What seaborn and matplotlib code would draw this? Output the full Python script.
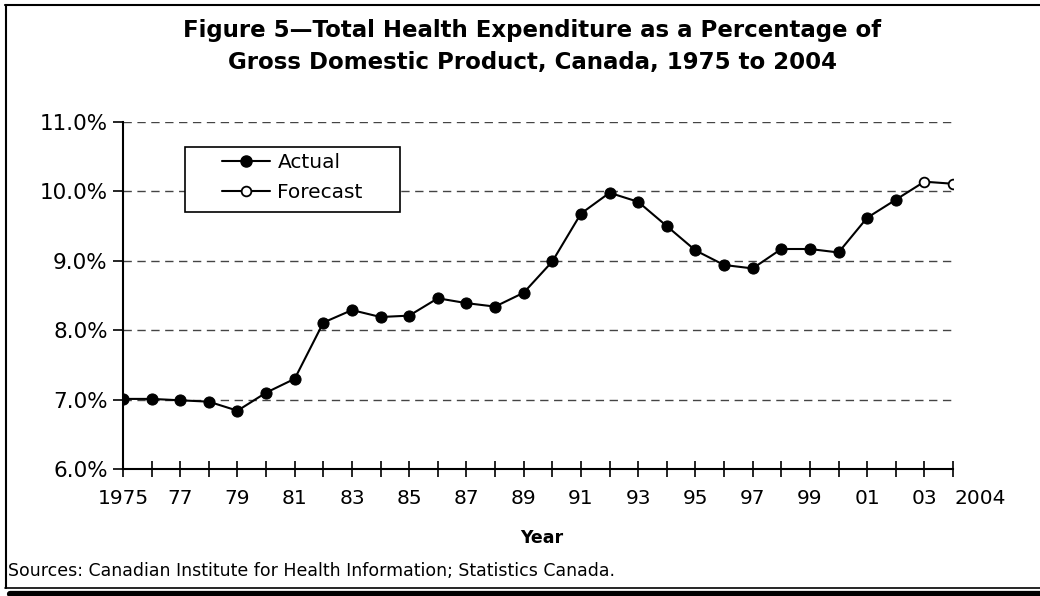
import matplotlib
matplotlib.use("Agg")
import matplotlib.pyplot as plt
import seaborn as sns
import pandas as pd
from matplotlib.lines import Line2D
from matplotlib.patches import Rectangle

# ---- data ----
actual_years = list(range(1975, 2003))
actual_values = [7.01, 7.01, 6.99, 6.97, 6.84, 7.10, 7.30, 8.11, 8.29, 8.19,
                 8.21, 8.46, 8.39, 8.34, 8.54, 8.99, 9.68, 9.98, 9.85, 9.50,
                 9.15, 8.94, 8.89, 9.17, 9.17, 9.12, 9.62, 9.88]
forecast_years = [2003, 2004]
forecast_values = [10.14, 10.11]
tick_years = [1975, 1977, 1979, 1981, 1983, 1985, 1987, 1989, 1991, 1993,
              1995, 1997, 1999, 2001, 2003, 2004]
tick_labels = ["1975", "77", "79", "81", "83", "85", "87", "89", "91", "93",
               "95", "97", "99", "01", "03", "2004"]
y_ticks = [6, 7, 8, 9, 10, 11]
y_labels = ["6.0%", "7.0%", "8.0%", "9.0%", "10.0%", "11.0%"]
title = "Figure 5\u2014Total Health Expenditure as a Percentage of\nGross Domestic Product, Canada, 1975 to 2004"
source = "Sources: Canadian Institute for Health Information; Statistics Canada."

sns.set_theme(style="white")
plt.rcParams["font.family"] = ["DejaVu Sans"]
plt.rcParams["text.color"] = "black"
plt.rcParams["xtick.color"] = "black"
plt.rcParams["ytick.color"] = "black"

FS = 14.5

fig = plt.figure(figsize=(10.4, 5.96), dpi=100)
ax = fig.add_axes([123 / 1040, 1 - 469 / 596, (953 - 123) / 1040, (469 - 122) / 596])

df_a = pd.DataFrame({"year": actual_years, "value": actual_values})
df_f = pd.DataFrame({"year": forecast_years, "value": forecast_values})
df_c = pd.DataFrame({"year": [actual_years[-1], forecast_years[0]],
                     "value": [actual_values[-1], forecast_values[0]]})

sns.lineplot(data=df_c, x="year", y="value", ax=ax, color="black", lw=1.5, zorder=3)
sns.lineplot(data=df_f, x="year", y="value", ax=ax, color="black", lw=1.5,
             marker="o", markersize=7, markerfacecolor="white",
             markeredgecolor="black", markeredgewidth=1.3, zorder=4)
sns.lineplot(data=df_a, x="year", y="value", ax=ax, color="black", lw=1.5,
             marker="o", markersize=8, markerfacecolor="black",
             markeredgecolor="black", zorder=5)

ax.set_xlim(1975, 2004)
ax.set_ylim(6, 11)
ax.set_yticks(y_ticks)
ax.set_yticklabels(y_labels, fontsize=FS + 1, color="black")
ax.set_xticks(list(range(1975, 2005)))
ax.set_xticklabels([""] * 30)
for yr, lab in zip(tick_years, tick_labels):
    ax.text(yr if lab != "2004" else yr + 0.05, 5.58, lab,
            ha="center" if lab != "2004" else "left",
            va="center", fontsize=FS, color="black", clip_on=False)

ax.tick_params(axis="x", bottom=True, direction="inout", length=11, width=1.2,
               color="black")
ax.tick_params(axis="y", left=True, direction="out", length=7, width=1.2,
               color="black", pad=4)
for s in ["top", "right"]:
    ax.spines[s].set_visible(False)
for s in ["left", "bottom"]:
    ax.spines[s].set_color("black")
    ax.spines[s].set_linewidth(1.5)
ax.grid(False)
for yv in y_ticks[1:]:
    ax.axhline(yv, color="#444444", lw=1.0, ls=(0, (6, 4)), zorder=1)

ax.set_xlabel("")
ax.set_ylabel("")
fig.text(542 / 1040, 1 - 538 / 596, "Year", ha="center", va="center",
         fontsize=12.5, fontweight="bold", color="black")

# legend box
box = Rectangle((185 / 1040, 1 - 212 / 596), 215 / 1040, 65 / 596,
                transform=fig.transFigure, facecolor="white", edgecolor="black",
                lw=1.2, zorder=6)
ax.add_patch(box)
box.set_clip_on(False)

handles = [
    Line2D([], [], color="black", lw=1.5, marker="o", markersize=8,
           markerfacecolor="black"),
    Line2D([], [], color="black", lw=1.5, marker="o", markersize=7,
           markerfacecolor="white", markeredgewidth=1.3),
]
leg = ax.legend(handles, ["Actual", "Forecast"], loc="upper left",
                bbox_to_anchor=(222 / 1040, 1 - 153 / 596),
                bbox_transform=fig.transFigure,
                frameon=False, fontsize=FS, handlelength=2.4,
                handletextpad=0.35, borderpad=0, labelspacing=0.55,
                borderaxespad=0)
for t in leg.get_texts():
    t.set_color("black")
leg.set_zorder(7)

fig.text(532 / 1040, 1 - 47 / 596, title, ha="center", va="center",
         fontsize=16.5, fontweight="bold", linespacing=1.5, color="black")
fig.text(8 / 1040, 1 - 571 / 596, source, ha="left", va="center", fontsize=12.5,
         color="black")

# outer frame
fig.add_artist(Line2D([5 / 1040, 1], [1 - 4.5 / 596] * 2, color="black", lw=1.5,
                      transform=fig.transFigure))
fig.add_artist(Line2D([5.5 / 1040] * 2, [1 - 4.5 / 596, 1 - 588 / 596], color="black",
                      lw=1.5, transform=fig.transFigure))
fig.add_artist(Line2D([5 / 1040, 1], [1 - 588 / 596] * 2, color="black", lw=1.2,
                      transform=fig.transFigure))
fig.add_artist(Line2D([10 / 1040, 1], [1 - 593.5 / 596] * 2, color="black", lw=4.5,
                      transform=fig.transFigure))

fig.savefig("out.png", dpi=100)
